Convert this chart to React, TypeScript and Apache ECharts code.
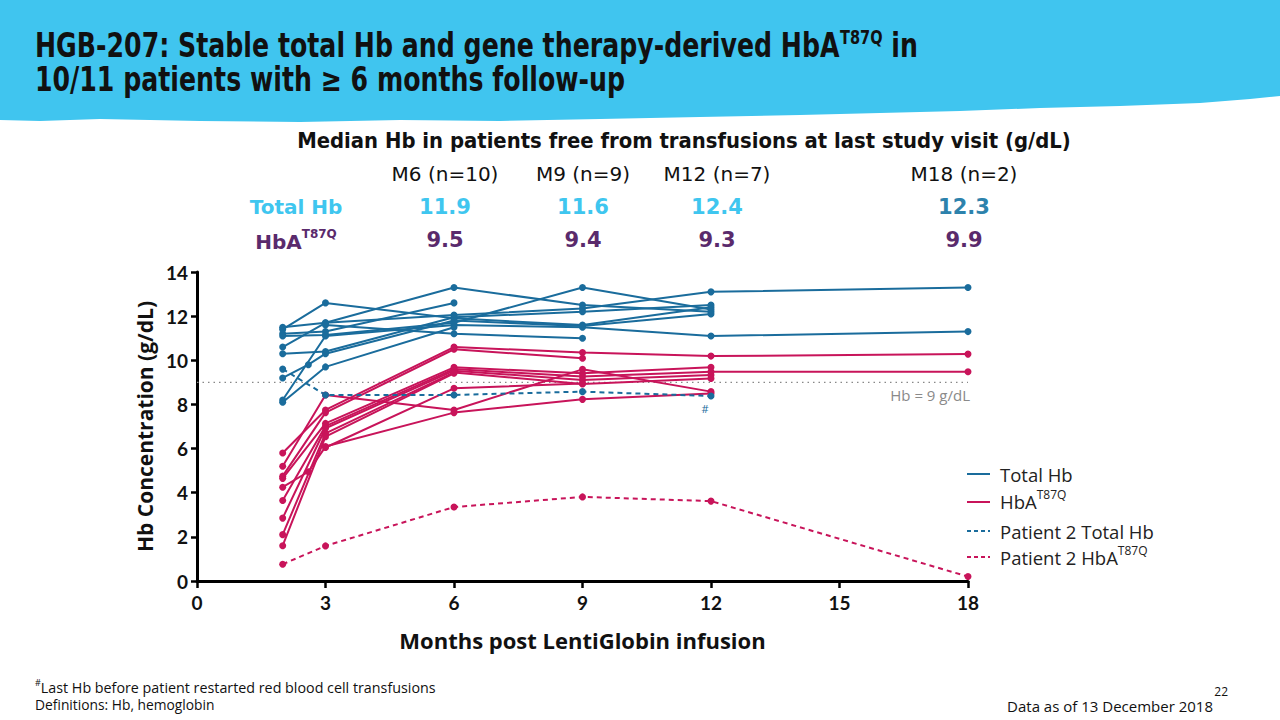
import React, { useEffect, useRef } from "react";
import * as echarts from "echarts";

// ---------- data ----------
const xTicks = [0, 3, 6, 9, 12, 15, 18];

// Total Hb per patient: [month, g/dL]
const totalHbPatients: number[][][] = [
  [[2, 11.5], [3, 11.7], [6, 13.3], [9, 12.5], [12, 12.2]],
  [[2, 11.4], [3, 12.6], [6, 11.9], [9, 11.6], [12, 12.4]],
  [[2, 11.2], [3, 11.3], [6, 12.6]],
  [[2, 11.1], [3, 11.15], [6, 11.7], [9, 13.3], [12, 12.3]],
  [[2, 10.6], [3, 11.7], [6, 12.05], [9, 12.35], [12, 13.1], [18, 13.3]],
  [[2, 10.3], [3, 10.4], [6, 11.95], [9, 12.2], [12, 12.5]],
  [[2, 9.2], [2.6, 9.8], [3, 10.3], [6, 11.8], [9, 11.55], [12, 12.1]],
  [[2, 8.2], [3, 11.1], [6, 11.6], [9, 11.5], [12, 11.1], [18, 11.3]],
  [[2, 8.1], [3, 9.7], [6, 11.5]],
  [[3, 11.6], [6, 11.2], [9, 11.0]],
];

// HbA T87Q per patient
const hbaPatients: number[][][] = [
  [[2, 5.8], [3, 7.75], [6, 10.6], [9, 10.35], [12, 10.19], [18, 10.28]],
  [[2, 5.2], [3, 8.43], [6, 7.75], [9, 9.59], [12, 8.58]],
  [[2, 4.75], [3, 7.63], [6, 10.5], [9, 10.09]],
  [[2, 4.65], [3, 7.14], [6, 9.68], [9, 9.41], [12, 9.68]],
  [[2, 4.25], [2.6, 4.95], [3, 6.09], [6, 7.63], [9, 8.23], [12, 8.5]],
  [[2, 3.65], [3, 7.02], [6, 9.6], [9, 9.26], [12, 9.48], [18, 9.48]],
  [[2, 2.85], [3, 6.92], [6, 9.53], [9, 9.11], [12, 9.33]],
  [[2, 2.1], [3, 6.69], [6, 9.45], [9, 8.93], [12, 9.18]],
  [[2, 1.6], [3, 6.54], [6, 9.41]],
  [[3, 6.05], [6, 8.73], [9, 8.95]],
];

const patient2TotalHb: number[][] = [[2, 9.6], [3, 8.43], [6, 8.43], [9, 8.58], [12, 8.38]];
const patient2Hba: number[][] = [[2, 0.76], [3, 1.59], [6, 3.35], [9, 3.81], [12, 3.62], [18, 0.2]];

const thresholdLine: number[][] = [[0, 9], [18, 9]];

const medianColumns = ["M6 (n=10)", "M9 (n=9)", "M12 (n=7)", "M18 (n=2)"];
const medianTotalHb = ["11.9", "11.6", "12.4", "12.3"];
const medianHba = ["9.5", "9.4", "9.3", "9.9"];

// ---------- styles ----------
const BLUE = "#1a6c9c";
const RED = "#c8145a";
const CYAN = "#3fc6ef";
const PURPLE = "#5a2a6c";
const BANNER = "#40c5ef";
const FONT = "Lato, 'Open Sans', sans-serif";
const OPEN = "'Open Sans', sans-serif";
const HEAD = "'DejaVu Sans', sans-serif";

const colX = [445, 583, 717, 964];

function supText(
  x: number, y: number, main: string, sup: string, after: string,
  size: number, supSize: number, color: string, weight: string, family: string,
  align: string = "left", scaleX = 1, lh = 1.2
) {
  return {
    type: "text",
    x, y, scaleX,
    style: {
      text: `{m|${main}}{s|${sup}}` + (after ? `{m|${after}}` : ""),
      align,
      verticalAlign: "middle",
      rich: {
        m: { fontSize: size, fontWeight: weight, fontFamily: family, fill: color, lineHeight: size * lh, verticalAlign: "bottom" },
        s: { fontSize: supSize, fontWeight: weight, fontFamily: family, fill: color, lineHeight: supSize, verticalAlign: "top" },
      },
    },
  };
}

function plainText(x: number, y: number, text: string, size: number, color: string, weight = "normal", align = "left", family = FONT, scaleX = 1) {
  return {
    type: "text",
    x, y, scaleX,
    style: { text, fontSize: size, fontWeight: weight, fontFamily: family, fill: color, align, verticalAlign: "middle" },
  };
}

export default function App() {
  const ref = useRef<HTMLDivElement>(null);

  useEffect(() => {
    if (!ref.current) return;
    const chart = echarts.init(ref.current, null, { renderer: "svg" });

    const lineSeries = (data: number[][], color: string, dashed: boolean) => ({
      type: "line",
      data,
      silent: true,
      symbol: "circle",
      symbolSize: 7,
      showSymbol: true,
      itemStyle: { color },
      lineStyle: { color, width: 2, type: dashed ? [5, 4] : "solid" },
      z: 3,
    });

    const series: any[] = [
      {
        type: "line",
        data: thresholdLine,
        silent: true,
        symbol: "none",
        lineStyle: { color: "#888", width: 1.2, type: [1.5, 4] },
        z: 1,
      },
      ...totalHbPatients.map((d) => lineSeries(d, BLUE, false)),
      ...hbaPatients.map((d) => lineSeries(d, RED, false)),
      lineSeries(patient2TotalHb, BLUE, true),
      lineSeries(patient2Hba, RED, true),
    ];

    const TS = 0.765;
    const graphic: any[] = [
      {
        type: "polygon",
        silent: true,
        z: -10,
        shape: {
          points: [
            [0, 0], [1280, 0], [1280, 96], [1250, 99], [1200, 103], [1120, 106], [1040, 108],
            [960, 111], [880, 113], [800, 115], [700, 117], [600, 119], [500, 121], [400, 120],
            [300, 122], [200, 121], [100, 119], [40, 121], [0, 120],
          ],
        },
        style: { fill: BANNER },
      },
      supText(35, 45, "HGB-207: Stable total Hb and gene therapy-derived HbA", "T87Q", " in", 33, 19, "#111", "bold", HEAD, "left", TS, 1.05),
      plainText(35, 80, "10/11 patients with \u2265 6 months follow-up", 33, "#111", "bold", "left", HEAD, TS),
      plainText(684, 141, "Median Hb in patients free from transfusions at last study visit (g/dL)", 21, "#111", "bold", "center", HEAD, 0.937),
      ...medianColumns.map((t, i) => plainText(colX[i], 174, t, 20, "#111", "normal", "center", HEAD)),
      plainText(296, 207, "Total Hb", 20, CYAN, "bold", "center", HEAD),
      ...medianTotalHb.map((t, i) => plainText(colX[i], 207, t, 21, i === 3 ? "#2d82ac" : CYAN, "bold", "center", HEAD)),
      supText(296, 240, "HbA", "T87Q", "", 20, 12, PURPLE, "bold", HEAD, "center"),
      ...medianHba.map((t, i) => plainText(colX[i], 240, t, 21, PURPLE, "bold", "center", HEAD)),
      plainText(970, 395, "Hb = 9 g/dL", 15, "#8a8a8a", "normal", "right", OPEN),
      plainText(705, 408, "#", 11, BLUE, "normal", "center", OPEN),
      // legend
      { type: "line", shape: { x1: 967, y1: 474, x2: 990, y2: 474 }, style: { stroke: BLUE, lineWidth: 2 } },
      plainText(1000, 474, "Total Hb", 18.5, "#222", "normal", "left", OPEN),
      { type: "line", shape: { x1: 967, y1: 502, x2: 990, y2: 502 }, style: { stroke: RED, lineWidth: 2 } },
      supText(1000, 500, "HbA", "T87Q", "", 18.5, 12, "#222", "normal", OPEN),
      { type: "line", shape: { x1: 967, y1: 531, x2: 990, y2: 531 }, style: { stroke: BLUE, lineWidth: 2, lineDash: [4, 3] } },
      plainText(1000, 531, "Patient 2 Total Hb", 18.5, "#222", "normal", "left", OPEN),
      { type: "line", shape: { x1: 967, y1: 557, x2: 990, y2: 557 }, style: { stroke: RED, lineWidth: 2, lineDash: [4, 3] } },
      supText(1000, 556, "Patient 2 HbA", "T87Q", "", 18.5, 12, "#222", "normal", OPEN),
      // footnotes
      {
        type: "text",
        x: 35,
        y: 686,
        style: {
          text: "{s|#}{m|Last Hb before patient restarted red blood cell transfusions}",
          verticalAlign: "middle",
          rich: {
            m: { fontSize: 14.3, fontFamily: OPEN, fill: "#111", lineHeight: 17, verticalAlign: "bottom" },
            s: { fontSize: 9, fontFamily: OPEN, fill: "#111", lineHeight: 9, verticalAlign: "top" },
          },
        },
      },
      plainText(35, 704, "Definitions: Hb, hemoglobin", 13.8, "#111", "normal", "left", OPEN),
      plainText(1213, 706, "Data as of 13 December 2018", 15, "#111", "normal", "right", OPEN),
      plainText(1228, 691, "22", 12, "#111", "normal", "right", OPEN),
    ];

    chart.setOption({
      animation: false,
      backgroundColor: "#ffffff",
      grid: { left: 197, top: 272, right: 312, bottom: 139, containLabel: false },
      xAxis: {
        type: "value",
        min: 0,
        max: 18,
        interval: 3,
        name: "Months post LentiGlobin infusion",
        nameLocation: "middle",
        nameGap: 48,
        nameTextStyle: { fontSize: 22, fontWeight: "bold", fontFamily: OPEN, color: "#111" },
        axisLine: { show: true, onZero: false, lineStyle: { color: "#000", width: 3 } },
        axisTick: { show: true, length: 7, lineStyle: { color: "#000", width: 2.5 } },
        axisLabel: { fontSize: 19, fontWeight: "bold", fontFamily: FONT, color: "#111", margin: 12 },
        splitLine: { show: false },
        data: xTicks,
      },
      yAxis: {
        type: "value",
        min: 0,
        max: 14,
        interval: 2,
        name: "Hb Concentration (g/dL)",
        nameLocation: "middle",
        nameGap: 40,
        nameRotate: 90,
        nameTextStyle: { fontSize: 21, fontWeight: "bold", fontFamily: OPEN, color: "#111" },
        axisLine: { show: true, onZero: false, lineStyle: { color: "#000", width: 3 } },
        axisTick: { show: true, length: 6, lineStyle: { color: "#000", width: 2.5 } },
        axisLabel: { fontSize: 19, fontWeight: "bold", fontFamily: FONT, color: "#111", margin: 9 },
        splitLine: { show: false },
      },
      series,
      graphic,
    } as any);

    return () => chart.dispose();
  }, []);

  return <div ref={ref} style={{ position: "fixed", left: 0, top: 0, width: 1280, height: 720 }} />;
}
